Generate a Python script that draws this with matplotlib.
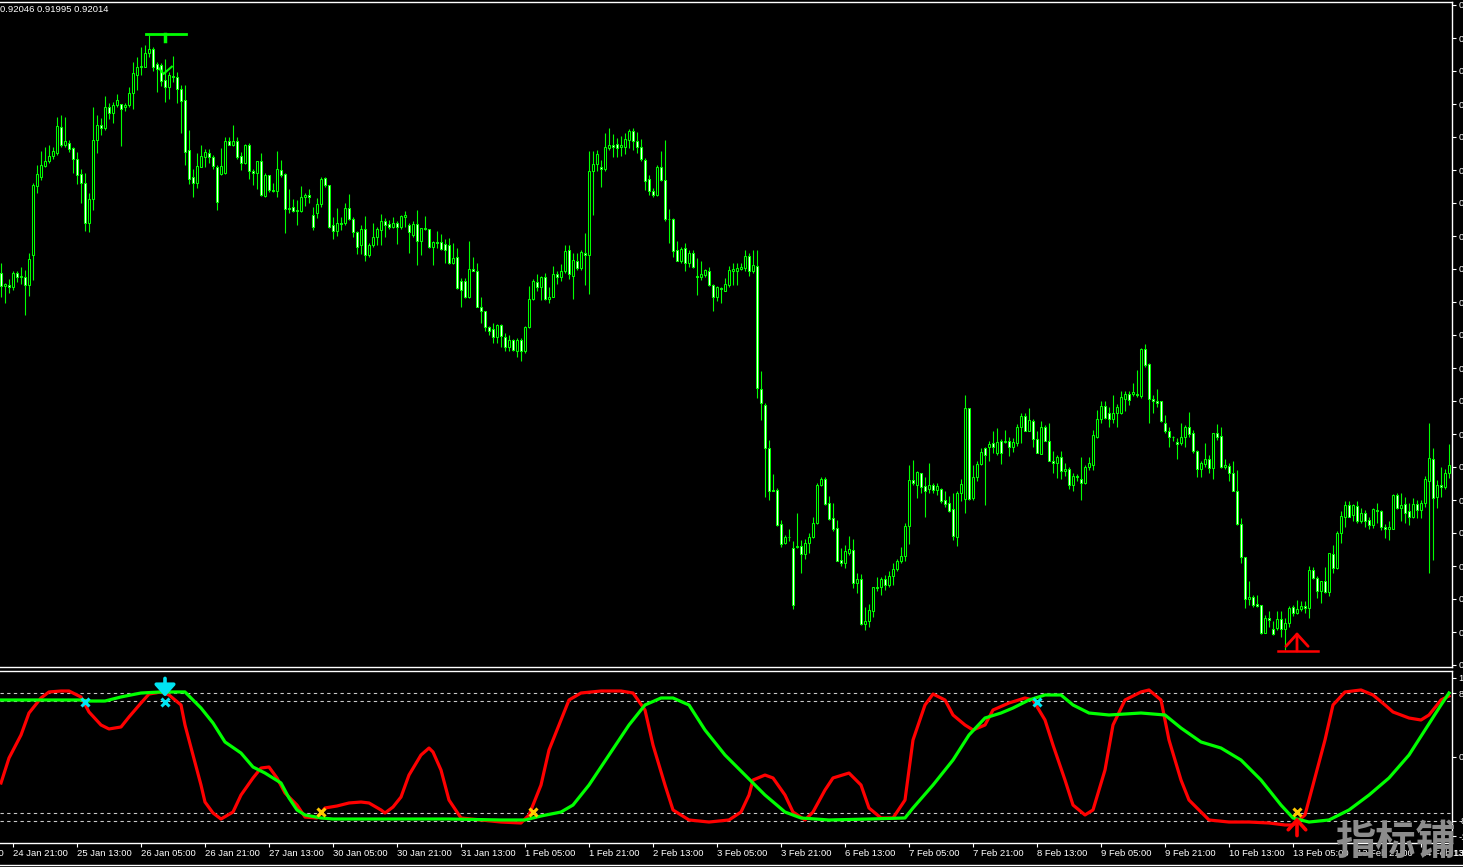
import numpy as np
import matplotlib.pyplot as plt
from matplotlib.lines import Line2D

plt.rcParams['font.family'] = ['Liberation Sans', 'DejaVu Sans']

# H1 candles, prices in points (1e-5)
open_pts = [
    92303, 92283, 92284, 92282, 92302, 92296, 92297, 92284, 92330, 92433,
    92447, 92463, 92470, 92478, 92483, 92521, 92495, 92498, 92490, 92474,
    92451, 92438, 92378, 92413, 92502, 92524, 92520, 92551, 92543, 92554,
    92556, 92551, 92554, 92572, 92600, 92612, 92612, 92633, 92639, 92616,
    92614, 92592, 92582, 92598, 92596, 92578, 92562, 92487, 92446, 92438,
    92462, 92477, 92483, 92476, 92462, 92451, 92452, 92500, 92494, 92500,
    92478, 92467, 92495, 92455, 92452, 92470, 92418, 92449, 92427, 92426,
    92457, 92451, 92400, 92401, 92397, 92396, 92417, 92420, 92390, 92393,
    92406, 92445, 92435, 92375, 92365, 92377, 92377, 92400, 92383, 92364,
    92344, 92368, 92330, 92344, 92356, 92367, 92381, 92376, 92372, 92377,
    92371, 92386, 92375, 92360, 92376, 92351, 92370, 92369, 92341, 92349,
    92349, 92346, 92345, 92317, 92326, 92291, 92291, 92266, 92309, 92306,
    92252, 92245, 92221, 92218, 92207, 92225, 92206, 92192, 92202, 92186,
    92202, 92185, 92222, 92263, 92289, 92282, 92296, 92264, 92267, 92301,
    92297, 92306, 92337, 92298, 92321, 92310, 92332, 92329, 92456, 92466,
    92461, 92458, 92490, 92494, 92496, 92492, 92491, 92502, 92516, 92501,
    92491, 92472, 92443, 92426, 92420, 92461, 92442, 92384, 92383, 92337,
    92321, 92340, 92317, 92332, 92298, 92297, 92300, 92305, 92284, 92267,
    92280, 92276, 92285, 92306, 92306, 92309, 92310, 92328, 92306, 92313,
    92128, 92105, 92040, 91977, 91977, 91926, 91897, 91907, 91890, 91891,
    91893, 91881, 91898, 91906, 91927, 91984, 91993, 91957, 91935, 91920,
    91872, 91868, 91883, 91887, 91837, 91843, 91776, 91781, 91796, 91831,
    91831, 91843, 91835, 91848, 91858, 91870, 91878, 91923, 91992, 91985,
    92002, 91983, 91978, 91985, 91977, 91978, 91962, 91957, 91948, 91907,
    91972, 91963, 92100, 91965, 91996, 92016, 92040, 92041, 92047, 92033,
    92050, 92049, 92051, 92041, 92048, 92071, 92088, 92066, 92080, 92053,
    92031, 92072, 92051, 92021, 92018, 92026, 92006, 92008, 91984, 91998,
    91993, 91987, 92011, 92015, 92057, 92083, 92103, 92092, 92083, 92092,
    92092, 92113, 92121, 92121, 92121, 92118, 92188, 92166, 92113, 92111,
    92110, 92078, 92066, 92057, 92049, 92047, 92056, 92071, 92062, 92035,
    92008, 92016, 92024, 92010, 92062, 92058, 92011, 92013, 92003, 91976,
    91926, 91876, 91813, 91816, 91806, 91805, 91763, 91785, 91768, 91770,
    91783, 91768, 91778, 91801, 91792, 91798, 91803, 91800, 91857, 91845,
    91825, 91841, 91824, 91881, 91860, 91912, 91937, 91955, 91939, 91953,
    91931, 91943, 91932, 91925, 91947, 91946, 91921, 91918, 91919, 91970,
    91950, 91956, 91945, 91936, 91956, 91947, 91958, 91991, 92023, 91966,
    91985, 91982, 92002,
]
high_pts = [
    92318, 92288, 92294, 92306, 92306, 92312, 92307, 92333, 92437, 92464,
    92485, 92492, 92494, 92492, 92536, 92539, 92536, 92502, 92492, 92484,
    92458, 92453, 92423, 92551, 92539, 92535, 92568, 92557, 92559, 92571,
    92556, 92558, 92582, 92619, 92627, 92642, 92645, 92659, 92642, 92619,
    92617, 92624, 92604, 92628, 92604, 92584, 92584, 92517, 92459, 92482,
    92494, 92488, 92489, 92479, 92464, 92490, 92506, 92506, 92524, 92506,
    92484, 92496, 92497, 92459, 92470, 92482, 92453, 92450, 92437, 92485,
    92472, 92452, 92429, 92413, 92412, 92433, 92422, 92428, 92402, 92415,
    92446, 92446, 92435, 92387, 92400, 92386, 92408, 92421, 92387, 92365,
    92375, 92388, 92347, 92377, 92372, 92391, 92385, 92382, 92386, 92380,
    92390, 92395, 92378, 92380, 92397, 92370, 92388, 92369, 92351, 92365,
    92361, 92353, 92355, 92348, 92340, 92295, 92295, 92350, 92327, 92317,
    92266, 92245, 92223, 92227, 92226, 92226, 92212, 92210, 92203, 92205,
    92205, 92223, 92283, 92293, 92301, 92298, 92303, 92282, 92313, 92305,
    92316, 92345, 92345, 92333, 92333, 92337, 92362, 92485, 92485, 92487,
    92472, 92513, 92520, 92511, 92505, 92508, 92513, 92518, 92520, 92514,
    92504, 92475, 92450, 92430, 92465, 92485, 92502, 92398, 92385, 92350,
    92342, 92347, 92337, 92337, 92325, 92320, 92309, 92312, 92286, 92283,
    92282, 92295, 92313, 92317, 92318, 92317, 92337, 92332, 92337, 92337,
    92156, 92107, 92052, 92001, 91980, 91932, 91910, 91918, 91900, 91942,
    91902, 91903, 91912, 91936, 91988, 91996, 91996, 91968, 91957, 91932,
    91890, 91895, 91908, 91903, 91852, 91851, 91802, 91806, 91832, 91847,
    91847, 91850, 91855, 91867, 91873, 91891, 91927, 92014, 92022, 92005,
    92003, 91996, 92018, 91988, 91988, 91980, 91975, 91968, 91973, 91975,
    91993, 92120, 92100, 92015, 92020, 92040, 92042, 92051, 92065, 92070,
    92053, 92067, 92056, 92055, 92076, 92093, 92092, 92100, 92083, 92065,
    92081, 92075, 92078, 92035, 92030, 92035, 92017, 92012, 92002, 92001,
    92027, 92015, 92027, 92067, 92097, 92111, 92110, 92102, 92120, 92106,
    92126, 92125, 92126, 92137, 92157, 92190, 92196, 92167, 92120, 92128,
    92111, 92090, 92072, 92058, 92055, 92077, 92075, 92094, 92067, 92037,
    92020, 92047, 92030, 92062, 92076, 92072, 92023, 92018, 92020, 92007,
    91935, 91877, 91841, 91820, 91820, 91805, 91790, 91795, 91781, 91796,
    91796, 91785, 91803, 91804, 91812, 91811, 91811, 91863, 91861, 91848,
    91841, 91862, 91883, 91895, 91915, 91945, 91960, 91961, 91956, 91960,
    91950, 91947, 91937, 91950, 91957, 91947, 91926, 91930, 91971, 91972,
    91973, 91966, 91958, 91965, 91962, 91962, 91998, 92077, 92040, 91992,
    92012, 92008, 92046,
]
low_pts = [
    92267, 92258, 92272, 92277, 92289, 92286, 92239, 92268, 92292, 92423,
    92442, 92462, 92467, 92474, 92480, 92492, 92492, 92484, 92453, 92436,
    92408, 92365, 92364, 92397, 92482, 92509, 92517, 92534, 92528, 92551,
    92493, 92546, 92552, 92548, 92577, 92600, 92612, 92627, 92606, 92574,
    92583, 92559, 92564, 92589, 92558, 92513, 92464, 92436, 92417, 92430,
    92461, 92462, 92468, 92459, 92397, 92450, 92451, 92494, 92493, 92474,
    92457, 92466, 92443, 92434, 92429, 92418, 92417, 92424, 92424, 92416,
    92447, 92363, 92392, 92394, 92374, 92394, 92403, 92408, 92367, 92385,
    92401, 92432, 92370, 92354, 92358, 92367, 92375, 92382, 92356, 92331,
    92331, 92320, 92327, 92341, 92345, 92345, 92356, 92369, 92370, 92346,
    92369, 92372, 92333, 92357, 92314, 92330, 92367, 92340, 92315, 92340,
    92337, 92317, 92316, 92316, 92278, 92252, 92265, 92265, 92305, 92251,
    92227, 92216, 92210, 92198, 92198, 92192, 92185, 92186, 92185, 92176,
    92170, 92182, 92220, 92262, 92276, 92262, 92262, 92258, 92266, 92286,
    92290, 92303, 92293, 92263, 92307, 92307, 92285, 92271, 92389, 92456,
    92431, 92456, 92487, 92477, 92477, 92478, 92481, 92490, 92487, 92483,
    92470, 92427, 92420, 92416, 92418, 92440, 92380, 92347, 92327, 92320,
    92318, 92305, 92312, 92310, 92269, 92292, 92297, 92283, 92245, 92260,
    92258, 92275, 92282, 92285, 92284, 92307, 92305, 92298, 92302, 92115,
    92082, 91966, 91962, 91975, 91923, 91892, 91896, 91901, 91798, 91890,
    91853, 91873, 91882, 91905, 91926, 91983, 91955, 91932, 91916, 91870,
    91863, 91860, 91880, 91830, 91823, 91774, 91767, 91771, 91787, 91826,
    91820, 91827, 91832, 91835, 91855, 91867, 91870, 91896, 91985, 91965,
    91972, 91937, 91973, 91972, 91970, 91958, 91952, 91944, 91902, 91893,
    91960, 91943, 91962, 91962, 91991, 92014, 91954, 92021, 92033, 92029,
    92016, 92047, 92028, 92034, 92043, 92048, 92066, 92065, 92041, 92032,
    92031, 92050, 92020, 92003, 91995, 91993, 91998, 91978, 91976, 91990,
    91962, 91986, 92007, 92007, 92055, 92078, 92083, 92072, 92078, 92072,
    92091, 92095, 92105, 92118, 92117, 92115, 92162, 92078, 92092, 92102,
    92079, 92063, 92042, 92051, 92023, 92045, 92042, 92057, 92033, 91997,
    91997, 92011, 92003, 91993, 92052, 92010, 92008, 91990, 91975, 91925,
    91867, 91800, 91805, 91802, 91801, 91761, 91762, 91772, 91760, 91767,
    91757, 91737, 91772, 91788, 91791, 91795, 91793, 91785, 91843, 91815,
    91808, 91822, 91818, 91852, 91858, 91897, 91922, 91936, 91930, 91927,
    91928, 91922, 91918, 91920, 91927, 91917, 91905, 91902, 91918, 91948,
    91930, 91927, 91925, 91935, 91935, 91935, 91951, 91853, 91872, 91950,
    91967, 91978, 91995,
]
close_pts = [
    92283, 92286, 92282, 92303, 92296, 92298, 92284, 92324, 92434, 92451,
    92465, 92470, 92478, 92485, 92523, 92495, 92500, 92488, 92473, 92450,
    92438, 92378, 92413, 92502, 92524, 92520, 92551, 92543, 92554, 92562,
    92549, 92555, 92572, 92602, 92611, 92613, 92633, 92639, 92611, 92609,
    92591, 92582, 92599, 92596, 92578, 92561, 92484, 92444, 92438, 92463,
    92478, 92484, 92476, 92463, 92409, 92463, 92500, 92495, 92500, 92477,
    92467, 92494, 92455, 92452, 92470, 92420, 92449, 92427, 92426, 92458,
    92449, 92399, 92398, 92396, 92395, 92416, 92420, 92416, 92371, 92406,
    92444, 92435, 92372, 92365, 92377, 92376, 92400, 92383, 92364, 92342,
    92368, 92330, 92345, 92357, 92368, 92381, 92374, 92372, 92377, 92371,
    92388, 92390, 92364, 92376, 92351, 92370, 92368, 92341, 92349, 92347,
    92339, 92337, 92317, 92325, 92280, 92277, 92266, 92308, 92306, 92252,
    92245, 92221, 92216, 92206, 92225, 92208, 92192, 92202, 92187, 92202,
    92186, 92222, 92263, 92290, 92282, 92296, 92264, 92267, 92301, 92297,
    92306, 92336, 92301, 92322, 92310, 92334, 92330, 92456, 92466, 92481,
    92458, 92491, 92494, 92491, 92490, 92495, 92503, 92515, 92501, 92491,
    92473, 92441, 92426, 92420, 92462, 92442, 92384, 92383, 92336, 92321,
    92339, 92317, 92332, 92311, 92296, 92301, 92307, 92284, 92267, 92282,
    92278, 92286, 92307, 92308, 92310, 92311, 92328, 92306, 92315, 92130,
    92108, 92040, 91976, 91976, 91925, 91896, 91907, 91906, 91804, 91893,
    91881, 91898, 91906, 91927, 91985, 91993, 91956, 91933, 91918, 91871,
    91868, 91885, 91888, 91837, 91843, 91776, 91781, 91797, 91831, 91830,
    91843, 91835, 91848, 91858, 91870, 91878, 91923, 91992, 91988, 92004,
    91982, 91975, 91985, 91977, 91983, 91961, 91956, 91946, 91908, 91972,
    91986, 92100, 91963, 91996, 92016, 92034, 92029, 92046, 92041, 92049,
    92033, 92050, 92041, 92049, 92071, 92088, 92066, 92082, 92053, 92033,
    92072, 92051, 92021, 92018, 92026, 92006, 92008, 91984, 91998, 91996,
    91987, 92011, 92017, 92060, 92083, 92103, 92085, 92083, 92092, 92101,
    92116, 92121, 92112, 92124, 92120, 92189, 92164, 92113, 92111, 92108,
    92080, 92065, 92056, 92056, 92046, 92056, 92071, 92061, 92035, 92008,
    92017, 92023, 92010, 92062, 92057, 92011, 92014, 92002, 91976, 91926,
    91877, 91813, 91816, 91805, 91803, 91763, 91785, 91782, 91761, 91783,
    91768, 91777, 91800, 91792, 91798, 91803, 91800, 91857, 91845, 91825,
    91841, 91824, 91882, 91860, 91912, 91938, 91955, 91937, 91954, 91931,
    91943, 91930, 91925, 91948, 91945, 91921, 91918, 91921, 91970, 91950,
    91955, 91943, 91936, 91956, 91947, 91958, 91993, 92025, 91965, 91985,
    91982, 92002, 92014,
]

# oscillator samples (bar index, value)
red_bars = [0, 2, 5, 7, 10, 12, 15, 17, 20, 22, 25, 27, 30, 32, 35, 37, 40, 42, 45, 46,
            48, 50, 51, 53, 55, 58, 60, 63, 65, 67, 69, 71, 74, 76, 79, 81, 84, 87, 90, 92,
            95, 96, 98, 100, 102, 105, 107, 108, 110, 112, 115, 120, 125, 130, 132, 135, 137, 140, 142, 145,
            150, 155, 158, 161, 163, 166, 168, 172, 177, 182, 185, 187, 188, 191, 193, 196, 198, 201, 203, 206,
            208, 212, 215, 217, 220, 223, 226, 228, 231, 233, 236, 238, 241, 243, 246, 248, 252, 256, 258, 261,
            263, 266, 268, 271, 273, 276, 278, 281, 285, 287, 290, 292, 295, 297, 300, 302, 307, 312, 317, 321,
            323, 326, 328, 331, 333, 336, 340, 343, 346, 348, 352, 355, 357, 360, 362]
red_vals = [-32.7, -1.3, 27.7, 55.4, 74.3, 81.9, 83.1, 83.1, 75.6, 56.7, 40.3, 35.3, 37.8, 50.4, 68.0, 79.3, 81.9, 78.1, 65.5, 40.3,
            2.5, -35.3, -56.7, -70.5, -78.1, -69.3, -47.9, -26.4, -13.9, -12.6, -26.4, -45.3, -60.5, -75.6, -76.8, -64.2, -61.7, -57.9, -56.7, -57.9,
            -66.7, -70.5, -63.0, -50.4, -22.7, 2.5, 11.3, 6.3, -16.4, -54.2, -76.8, -79.3, -81.9, -83.1, -73.0, -35.3, 8.8, 46.6, 71.8, 80.6,
            83.1, 83.1, 80.6, 59.2, 15.1, -35.3, -66.7, -79.3, -81.9, -79.3, -69.3, -47.9, -29.0, -22.7, -26.4, -47.9, -69.3, -79.3, -69.3, -41.6,
            -26.4, -20.2, -35.3, -64.2, -76.8, -76.8, -54.2, 21.4, 65.5, 79.3, 71.8, 52.9, 40.3, 34.0, 40.3, 59.2, 68.0, 74.3, 71.8, 46.6,
            15.1, -29.0, -60.5, -73.0, -66.7, -16.4, 40.3, 71.8, 81.9, 84.4, 71.8, 21.4, -29.0, -54.2, -69.3, -79.3, -81.9, -81.9, -83.1, -85.6,
            -85.6, -73.0, -35.3, 21.4, 65.5, 81.9, 84.4, 78.1, 65.5, 56.7, 49.1, 46.6, 52.9, 71.8, 76.8]
green_bars = [0, 20, 22, 26, 30, 35, 40, 46, 50, 53, 56, 60, 63, 66, 70, 72, 74, 76, 80, 83,
              100, 112, 125, 131, 135, 140, 143, 147, 152, 157, 161, 165, 168, 172, 176, 181, 186, 191, 196, 200,
              207, 217, 226, 228, 233, 238, 242, 246, 250, 253, 257, 261, 265, 268, 272, 277, 285, 291, 295, 300,
              305, 310, 315, 320, 323, 327, 332, 337, 342, 347, 352, 356, 360, 362]
green_vals = [71.8, 71.8, 70.5, 70.5, 75.6, 80.6, 81.9, 81.9, 61.7, 42.8, 18.9, 5.0, -12.6, -20.2, -32.7, -51.6, -66.7, -73.0, -76.8, -78.1,
              -78.1, -78.1, -79.3, -79.3, -74.3, -69.3, -60.5, -35.3, 2.5, 40.3, 65.5, 74.3, 74.3, 65.5, 34.0, 2.5, -22.7, -47.9, -69.3, -76.8,
              -79.3, -78.1, -76.8, -64.2, -35.3, -3.8, 27.7, 49.1, 55.4, 61.7, 71.8, 78.1, 78.1, 65.5, 55.4, 52.9, 55.4, 52.9, 36.5, 18.9,
              11.3, -3.8, -29.0, -60.5, -76.8, -81.9, -79.3, -66.7, -47.9, -26.4, 2.5, 34.0, 65.5, 80.6]
levels = [80, 70, -70, -80]

sell_x_bars = [21, 41, 259]
buy_x_bars = [80, 133, 324]
x_level = 69.3

time_ticks = [3, 19, 35, 51, 67, 83, 99, 115, 131, 147, 163, 179, 195, 211, 227, 243,
              259, 275, 291, 307, 323, 339, 355]
time_labels = ['24 Jan 21:00', '25 Jan 13:00', '26 Jan 05:00', '26 Jan 21:00', '27 Jan 13:00',
               '30 Jan 05:00', '30 Jan 21:00', '31 Jan 13:00', '1 Feb 05:00', '1 Feb 21:00',
               '2 Feb 13:00', '3 Feb 05:00', '3 Feb 21:00', '6 Feb 13:00', '7 Feb 05:00',
               '7 Feb 21:00', '8 Feb 13:00', '9 Feb 05:00', '9 Feb 21:00', '10 Feb 13:00',
               '13 Feb 05:00', '13 Feb 21:00', '14 Feb 13:00']
price_ticks = [0.91715, 0.91764, 0.91814, 0.91863, 0.91913, 0.91962, 0.92012, 0.92061,
               0.92111, 0.92160, 0.92210, 0.92259, 0.92309, 0.92358, 0.92408, 0.92457,
               0.92507, 0.92556, 0.92606, 0.92655, 0.92705]
osc_ticks = [100, 80, 0, -80, -100]
osc_labels = ['100.00', '80.00', '0.00', '-80.00', '-100.00']

LIME = '#00ff00'
CYAN = '#00e4f2'
GOLD = '#ffc800'
W, H = 1463, 867

o = np.array(open_pts) / 1e5
h = np.array(high_pts) / 1e5
l = np.array(low_pts) / 1e5
c = np.array(close_pts) / 1e5
bars = np.arange(len(c))

fig = plt.figure(figsize=(W / 100, H / 100), dpi=100, facecolor='black')
ax = fig.add_axes([0, (H - 667) / H, 1452 / W, 665 / H], facecolor='black')
ax2 = fig.add_axes([0, (H - 843) / H, 1452 / W, 172 / H], facecolor='black')

for a in (ax, ax2):
    a.set_xlim(-0.25, 362.75)
    a.spines['left'].set_visible(False)
    for s in ('top', 'right', 'bottom'):
        a.spines[s].set_color('white')
        a.spines[s].set_linewidth(1.0)
    a.yaxis.tick_right()
    a.tick_params(axis='y', colors='white', length=3, width=0.8, labelsize=6.8, pad=1.5)

# candles
ax.vlines(bars, l, h, color=LIME, lw=0.8, zorder=2)
bull = c >= o
body_lo = np.minimum(o, c)
body_h = np.abs(c - o)
ax.bar(bars, body_h, bottom=body_lo, width=0.5, color=np.where(bull, 'black', 'white'),
       edgecolor=LIME, linewidth=0.75, zorder=3)
ax.set_ylim(0.917115, 0.92709)
ax.set_yticks(price_ticks)
ax.set_yticklabels(['%.5f' % p for p in price_ticks])
ax.set_xticks([])

# signal objects on the price chart
ax.plot([36.25, 46.25], [0.92661, 0.92661], color=LIME, lw=2, zorder=4)
ax.plot([41, 41], [0.92661, 0.92650], color=LIME, lw=2.5, zorder=4)
ax.plot([39.6, 40.6, 42.7], [0.92609, 0.92601, 0.92612], color=LIME, lw=1.5, zorder=4)
ax.plot([319.25, 329.25], [0.917355, 0.917355], color='red', lw=1.8, zorder=4)
ax.annotate('', xy=(324, 0.91764), xytext=(324, 0.917355),
            arrowprops=dict(arrowstyle='->,head_length=0.55,head_width=0.5', color='red',
                            lw=2.0, mutation_scale=16, shrinkA=0, shrinkB=0), zorder=4)

# oscillator
for lv in levels:
    ax2.axhline(lv, color='#c8c8c8', lw=0.8, dashes=(3, 3), zorder=1)
ax2.plot(red_bars, red_vals, color='red', lw=2.3, zorder=2, solid_joinstyle='round')
ax2.plot(green_bars, green_vals, color=LIME, lw=2.3, zorder=3, solid_joinstyle='round')
ax2.plot(sell_x_bars, [x_level] * len(sell_x_bars), 'x', color=CYAN, ms=6, mew=2.2, zorder=5)
ax2.plot(buy_x_bars, [-x_level] * len(buy_x_bars), 'x', color=GOLD, ms=6, mew=2.2, zorder=5)
ax2.annotate('', xy=(41, 76), xytext=(41, 99),
             arrowprops=dict(arrowstyle='-|>,head_length=0.5,head_width=0.45', color=CYAN,
                             lw=2.6, mutation_scale=14, shrinkA=0, shrinkB=0), zorder=6)
ax2.annotate('', xy=(324, -76), xytext=(324, -99),
             arrowprops=dict(arrowstyle='->,head_length=0.5,head_width=0.45', color='red',
                             lw=2.6, mutation_scale=14, shrinkA=0, shrinkB=0), zorder=6)
ax2.set_ylim(-108.3, 108.3)
ax2.set_yticks(osc_ticks)
ax2.set_yticklabels(osc_labels)
ax2.set_xticks(time_ticks)
ax2.set_xticklabels(time_labels, ha='left')
ax2.tick_params(axis='x', colors='white', length=3, width=0.8, labelsize=6.8, pad=1.5)

# text and frame extras
fig.text(0.5 / W, 1 - 10 / H, '0.92046 0.91995 0.92014', color='white', fontsize=6.8,
         ha='left', va='center')
fig.text(-51 / W, 1 - 853 / H, '24 Jan 05:00', color='white', fontsize=6.8, ha='left', va='center')
fig.text(1454 / W, 1 - 853 / H, '13 Feb 2017', color='white', fontsize=6.8, ha='left', va='center')
fig.add_artist(Line2D([0, 1], [1 - 865 / H, 1 - 865 / H], color='white', lw=1.0))
fig.text(1395 / W, 1 - 842 / H, '指标铺', color='#8c8c8c', fontsize=29, fontweight='bold',
         family=['Noto Sans CJK SC', 'DejaVu Sans'], ha='center', va='center', zorder=10)

fig.savefig('out.png', dpi=100, facecolor='black')
